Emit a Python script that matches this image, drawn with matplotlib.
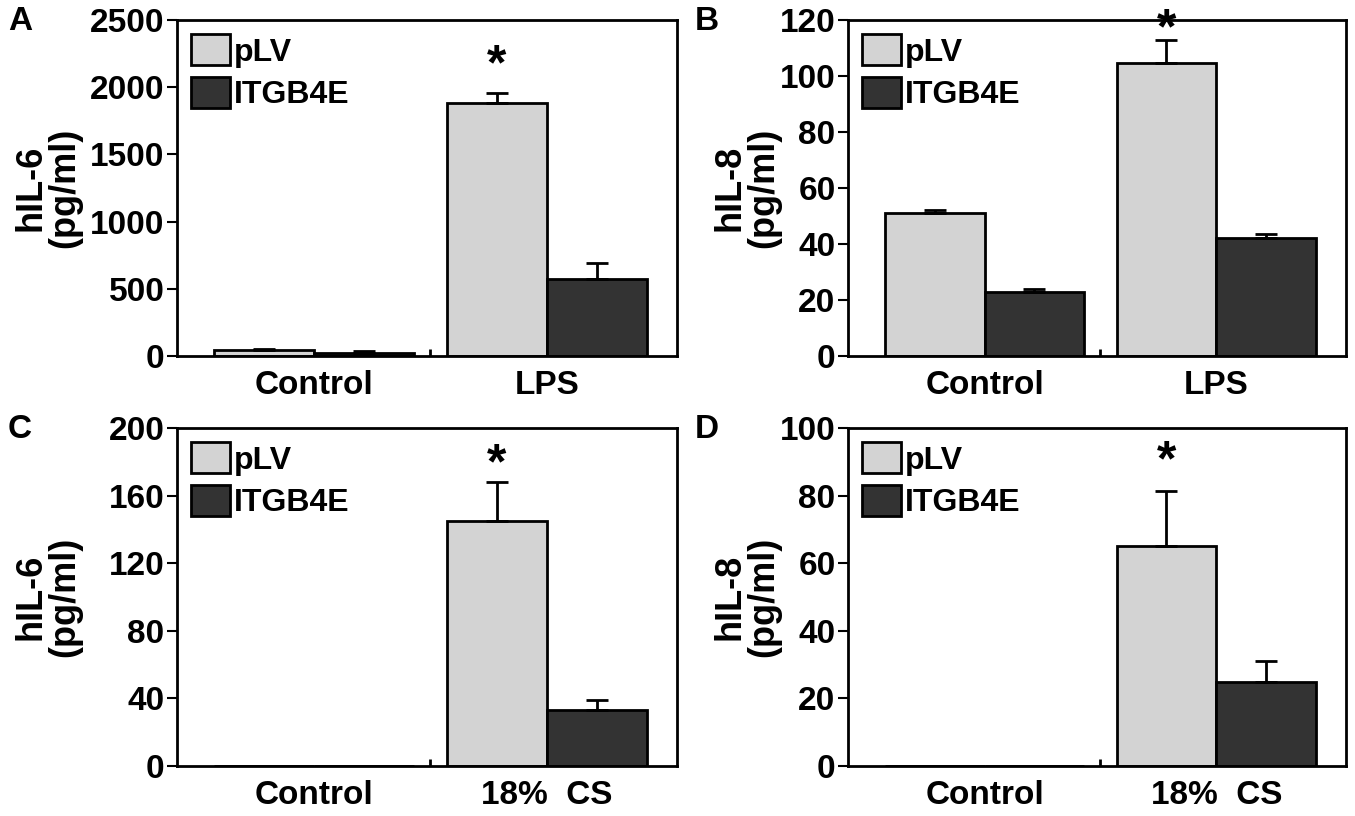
import matplotlib
matplotlib.use('Agg')
import matplotlib.pyplot as plt
import numpy as np

plt.rcParams['font.family'] = ['Liberation Sans', 'DejaVu Sans']
plt.rcParams['font.weight'] = 'bold'

# 数据
groups_lps = ["Control", "LPS"]
groups_cs = ["Control", "18%  CS"]
series = ["pLV", "ITGB4E"]

a_plv = [45, 1880]
a_plv_err = [10, 80]
a_itg = [20, 575]
a_itg_err = [15, 120]

b_plv = [51, 104.5]
b_plv_err = [1, 8.5]
b_itg = [23, 42]
b_itg_err = [1, 1.5]

c_plv = [0, 145]
c_plv_err = [0, 23]
c_itg = [0, 33]
c_itg_err = [0, 6]

d_plv = [0, 65]
d_plv_err = [0, 16.5]
d_itg = [0, 25]
d_itg_err = [0, 6]

W, H = 1355, 816
fig = plt.figure(figsize=(W / 100, H / 100), dpi=100)


def px_axes(left, top, right, bottom):
    return fig.add_axes([left / W, 1 - bottom / H, (right - left) / W, (bottom - top) / H])


def draw_panel(ax, letter, lx, ly, groups, plv, plv_err, itg, itg_err,
               ylab, ymax, ystep, star_off, label_x):
    x = np.arange(len(groups))
    w = 0.43
    b1 = ax.bar(x - w / 2, plv, w, color='#d3d3d3', edgecolor='black', linewidth=2, label=series[0])
    b2 = ax.bar(x + w / 2, itg, w, color='#333333', edgecolor='black', linewidth=2, label=series[1])
    for xs, vals, errs in [(x - w / 2, plv, plv_err), (x + w / 2, itg, itg_err)]:
        for xi, v, e in zip(xs, vals, errs):
            if e > 0:
                ax.errorbar(xi, v, yerr=[[0], [e]], fmt='none', ecolor='black',
                            elinewidth=2, capsize=8, capthick=2, zorder=1)
    # 星号
    i = int(np.argmax(plv))
    ax.annotate('*', xy=(x[i] - w / 2, plv[i] + plv_err[i]), xytext=(0, star_off),
                textcoords='offset points', ha='center', va='center',
                fontsize=36, fontweight='bold', annotation_clip=False)

    ax.set_xlim(-0.59, 1.56)
    ax.set_ylim(0, ymax)
    ax.set_yticks(np.arange(0, ymax + 1, ystep))
    ax.set_xticks(x)
    ax.set_xticklabels(groups, fontsize=24, fontweight='bold')
    ax.set_xticks([0.5], minor=True)
    ax.tick_params(axis='x', which='major', length=0, pad=10)
    ax.tick_params(axis='x', which='minor', direction='in', length=5, width=2)
    ax.tick_params(axis='y', direction='out', length=7, width=1.5, pad=2, labelsize=24)
    for s in ax.spines.values():
        s.set_linewidth(2)
    ax.set_ylabel(ylab, fontsize=26, fontweight='bold', linespacing=0.95)
    ax.yaxis.set_label_coords(label_x, 0.5)

    ax.legend(handles=[b1, b2], loc='upper left', frameon=False, fontsize=23,
              handlelength=1.2, handleheight=1.1, handletextpad=0.12,
              labelspacing=0.3, borderaxespad=0.25, borderpad=0.2)
    fig.text(lx / W, 1 - ly / H, letter, fontsize=24, fontweight='bold', va='top', ha='left')


ax_a = px_axes(177, 20, 677, 356)
ax_b = px_axes(848, 20, 1346, 356)
ax_c = px_axes(177, 428, 677, 766)
ax_d = px_axes(848, 428, 1346, 766)

draw_panel(ax_a, 'A', 8, 6, groups_lps, a_plv, a_plv_err, a_itg, a_itg_err,
           "hIL-6\n(pg/ml)", 2500, 500, 19, -0.19)
draw_panel(ax_b, 'B', 695, 6, groups_lps, b_plv, b_plv_err, b_itg, b_itg_err,
           "hIL-8\n(pg/ml)", 120, 20, 7, -0.135)
draw_panel(ax_c, 'C', 8, 414, groups_cs, c_plv, c_plv_err, c_itg, c_itg_err,
           "hIL-6\n(pg/ml)", 200, 40, 12, -0.19)
draw_panel(ax_d, 'D', 695, 414, groups_cs, d_plv, d_plv_err, d_itg, d_itg_err,
           "hIL-8\n(pg/ml)", 100, 20, 20, -0.135)

fig.savefig('out.png', dpi=100)
